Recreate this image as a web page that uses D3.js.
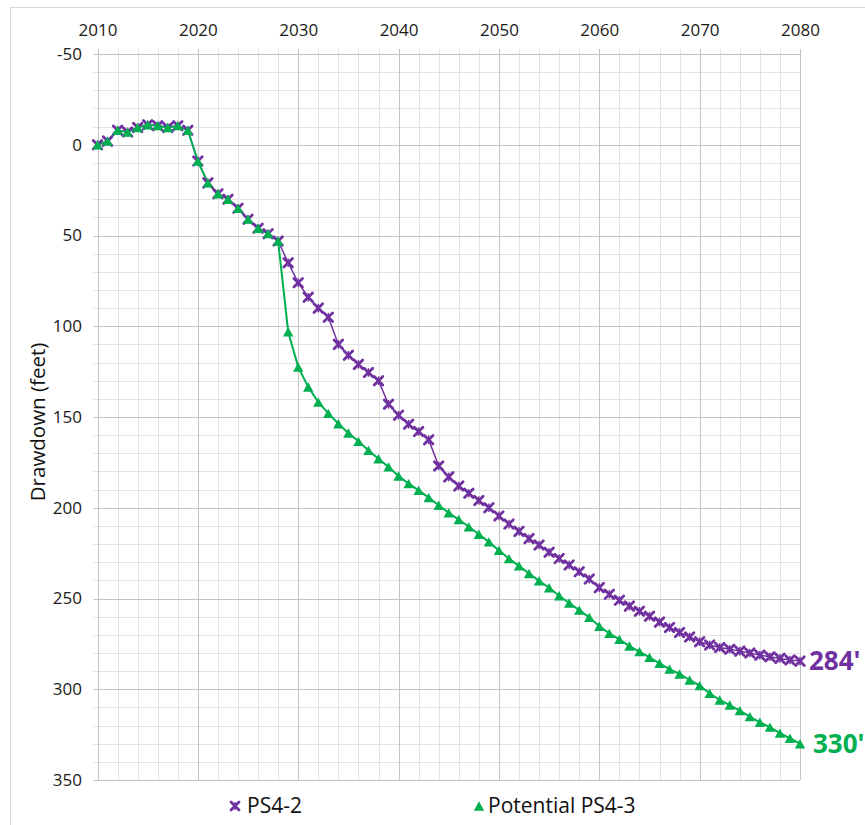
<!DOCTYPE html>
<html>
<head>
<meta charset="utf-8">
<script src="https://cdn.jsdelivr.net/npm/d3@7"></script>
<style>
  html, body { margin: 0; padding: 0; background: #fff; }
  svg { display: block; font-family: "Open Sans", "Noto Sans", sans-serif; }
</style>
</head>
<body>
<svg id="chart" width="865" height="825"></svg>
<script>
const years = [2010,2011,2012,2013,2014,2015,2016,2017,2018,2019,
  2020,2021,2022,2023,2024,2025,2026,2027,2028,2029,
  2030,2031,2032,2033,2034,2035,2036,2037,2038,2039,
  2040,2041,2042,2043,2044,2045,2046,2047,2048,2049,
  2050,2051,2052,2053,2054,2055,2056,2057,2058,2059,
  2060,2061,2062,2063,2064,2065,2066,2067,2068,2069,
  2070,2071,2072,2073,2074,2075,2076,2077,2078,2079,2080];

const ps42 = [0,-2,-8,-7,-9.5,-11,-10.5,-9.5,-10.5,-8,
  9,21,27,30,35,41,46,49,53,65,
  76,84,90,95,110,116,121,125.5,130,143,
  149,154,158,162.5,177,183,188,192,196,200,
  204.5,209,213,217,220.5,224.5,228,231.5,235.3,239.3,
  244,247.7,251,254.2,257,259.8,263,266,268.7,271.2,
  273.8,275.6,277,278,279,280,281.2,282.1,283,283.9,284.5];

const ps43 = [0,-2,-8,-7,-9.5,-11,-10.5,-9.5,-10.5,-8,
  9,21,27,30,35,41,46,49,53,103,
  122.5,133.5,141.8,148,153.7,158.8,163.4,168.4,173,177.5,
  182.5,186.7,190.4,194.4,198.6,202.8,206.5,210.5,214.6,218.8,
  223.5,228,232,236.2,240.3,244.1,248.5,252.5,256.4,260.4,
  265.3,269.2,272.5,276.2,279.3,282.4,285.7,288.9,291.6,294.9,
  298,302.2,305.9,308.7,311.8,315.1,318.2,320.9,324.2,327,330];

const xTicks = [2010,2020,2030,2040,2050,2060,2070,2080];
const yTicks = [-50,0,50,100,150,200,250,300,350];
const seriesNames = ["PS4-2", "Potential PS4-3"];
const endLabels = ["284'", "330'"];

const purple = "#7030a0", green = "#00b050";

const svg = d3.select("#chart");
const pL = 97.5, pR = 800, pT = 54, pB = 780;
const x = d3.scaleLinear().domain([2010, 2080]).range([pL, pR]);
const y = d3.scaleLinear().domain([-50, 350]).range([pT, pB]);

// outer frame
svg.append("rect").attr("x", 10.5).attr("y", 7.5).attr("width", 870).attr("height", 830)
  .attr("fill", "none").attr("stroke", "#d9d9d9");

// minor grid
const g = svg.append("g");
const minorX = d3.range(2010, 2081, 2).filter(v => v % 10 !== 0);
const minorY = d3.range(-50, 351, 10).filter(v => v % 50 !== 0);
g.selectAll(".mx").data(minorX).join("line")
  .attr("x1", d => Math.round(x(d)) + 0.5).attr("x2", d => Math.round(x(d)) + 0.5)
  .attr("y1", pT - 5).attr("y2", pB)
  .attr("stroke", "#e3e3e3").attr("stroke-width", 1);
g.selectAll(".my").data(minorY).join("line")
  .attr("y1", d => Math.round(y(d)) + 0.5).attr("y2", d => Math.round(y(d)) + 0.5)
  .attr("x1", pL - 4).attr("x2", pR)
  .attr("stroke", "#e3e3e3").attr("stroke-width", 1);
// major grid
g.selectAll(".Mx").data(xTicks).join("line")
  .attr("x1", d => Math.round(x(d)) + 0.5).attr("x2", d => Math.round(x(d)) + 0.5)
  .attr("y1", pT - 5).attr("y2", pB)
  .attr("stroke", "#c4c4c4").attr("stroke-width", 1);
g.selectAll(".My").data(yTicks).join("line")
  .attr("y1", d => Math.round(y(d)) + 0.5).attr("y2", d => Math.round(y(d)) + 0.5)
  .attr("x1", pL - 4).attr("x2", pR)
  .attr("stroke", "#c4c4c4").attr("stroke-width", 1);

// axes labels via d3 axes
const xAxis = d3.axisTop(x).tickValues(xTicks).tickFormat(d => String(d)).tickSize(0).tickPadding(0);
const xa = svg.append("g").attr("transform", `translate(0,${pT - 18})`).call(xAxis);
xa.select(".domain").remove();
xa.selectAll("text").attr("font-size", 17).attr("fill", "#1a1a1a").attr("font-family", "'Open Sans', sans-serif");

const yAxis = d3.axisLeft(y).tickValues(yTicks).tickFormat(d => String(d)).tickSize(0).tickPadding(0);
const ya = svg.append("g").attr("transform", `translate(82,0)`).call(yAxis);
ya.select(".domain").remove();
ya.selectAll("text").attr("font-size", 17).attr("fill", "#1a1a1a").attr("font-family", "'Open Sans', sans-serif");

// axis title
svg.append("text").attr("transform", `translate(45,422) rotate(-90)`)
  .attr("text-anchor", "middle").attr("font-size", 20.5).attr("fill", "#111")
  .text("Drawdown (feet)");

// lines
const line = vals => d3.line().x((d, i) => x(years[i])).y(d => y(d))(vals);
svg.append("path").attr("d", line(ps42)).attr("fill", "none").attr("stroke", purple).attr("stroke-width", 1.5);
svg.append("path").attr("d", line(ps43)).attr("fill", "none").attr("stroke", green).attr("stroke-width", 2);

// markers
function starMarker(sel, s) {
  sel.append("path").attr("d", `M${-s},${-s}L${s},${s}M${-s},${s}L${s},${-s}`)
    .attr("stroke", purple).attr("stroke-width", 2.8).attr("stroke-linecap", "round");
  sel.append("path").attr("d", `M0,${-s}L0,${s}`)
    .attr("stroke", purple).attr("stroke-width", 1.4);
}
const triPath = w => `M0,${-w * 0.9}L${w},${w * 0.9}L${-w},${w * 0.9}Z`;

svg.append("g").selectAll("g").data(ps42).join("g")
  .attr("transform", (d, i) => `translate(${x(years[i])},${y(d)})`)
  .each(function() { starMarker(d3.select(this), 4.3); });

svg.append("g").selectAll("path").data(ps43).join("path")
  .attr("transform", (d, i) => `translate(${x(years[i])},${y(d)})`)
  .attr("d", triPath(5.2)).attr("fill", green);

// end labels
svg.append("text").attr("x", x(years[years.length - 1]) + 9).attr("y", y(ps42[ps42.length - 1]))
  .attr("dy", "0.36em").attr("font-size", 26).attr("font-weight", "bold").attr("fill", purple)
  .text(endLabels[0]);
svg.append("text").attr("x", x(years[years.length - 1]) + 13).attr("y", y(ps43[ps43.length - 1]))
  .attr("dy", "0.36em").attr("font-size", 26).attr("font-weight", "bold").attr("fill", green)
  .text(endLabels[1]);

// legend
const lg1 = svg.append("g").attr("transform", "translate(235,806)");
starMarker(lg1, 4);
svg.append("text").attr("x", 247).attr("y", 813).attr("font-size", 21).attr("fill", "#111").text(seriesNames[0]);
svg.append("path").attr("transform", "translate(479,806)").attr("d", triPath(5.2)).attr("fill", green);
svg.append("text").attr("x", 488).attr("y", 813).attr("font-size", 21).attr("fill", "#111").text(seriesNames[1]);
</script>
</body>
</html>
